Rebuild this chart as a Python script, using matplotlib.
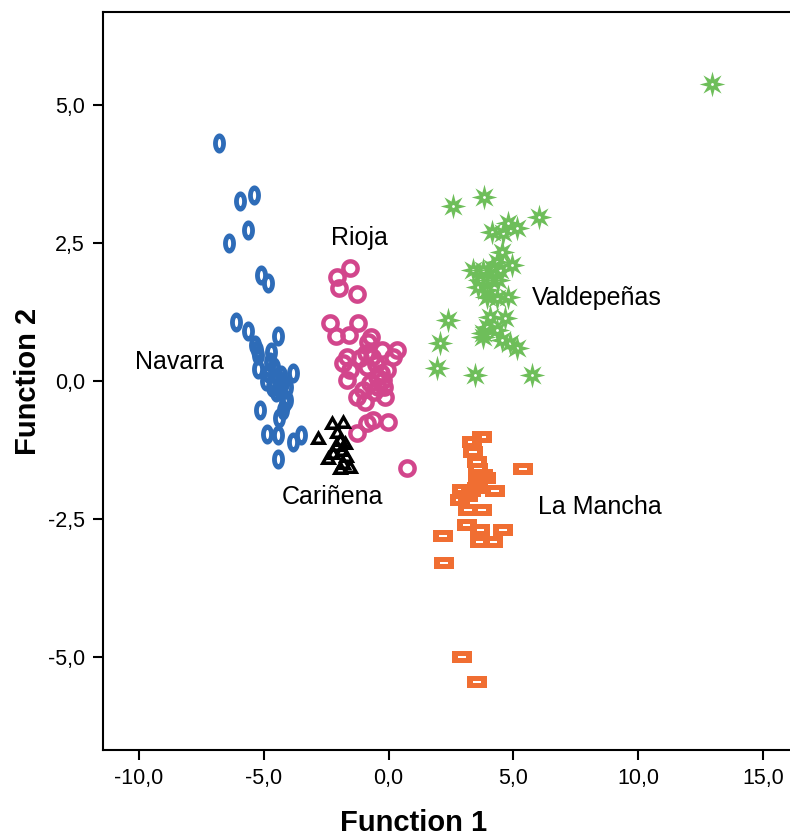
import numpy as np
import matplotlib
matplotlib.use("Agg")
import matplotlib.pyplot as plt
from matplotlib.path import Path

# discriminant scores (Function 1, Function 2)
navarra_x = [-6.79, -5.39, -5.95, -5.63, -6.39, -5.11, -4.83, -6.11, -5.63, -4.43, -5.35, -5.27,
             -5.23, -4.71, -5.23, -4.75, -4.83, -4.47, -4.23, -4.67, -4.35, -4.07, -3.83, -4.15,
             -4.07, -4.23, -5.15, -4.39, -4.87, -4.43, -3.83, -3.51, -4.43, -4.9, -4.6, -4.5, -4.3]
navarra_y = [4.31, 3.37, 3.26, 2.74, 2.50, 1.92, 1.78, 1.07, 0.91, 0.82, 0.65, 0.56,
             0.47, 0.53, 0.22, 0.34, 0.14, 0.07, -0.04, -0.11, -0.16, -0.11, 0.14, -0.40,
             -0.34, -0.53, -0.53, -0.67, -0.96, -0.98, -1.11, -0.98, -1.41, 0.0, 0.25, -0.2, 0.1]

rioja_x = [-1.55, -2.07, -1.99, -1.27, -2.35, -1.23, -2.11, -1.59, -0.71, -0.83, -0.26, 0.34,
           0.18, -1.67, -1.83, -1.15, -0.67, -1.55, -0.06, -0.87, -0.46, -0.75, -1.67, -0.22,
           -1.03, -0.42, -1.27, -0.95, -0.14, -0.62, -0.87, -0.02, -1.27, 0.74,
           -0.5, -0.3, -0.6, -0.2, -0.9]
rioja_y = [2.05, 1.88, 1.68, 1.58, 1.05, 1.05, 0.82, 0.83, 0.80, 0.71, 0.56, 0.56,
           0.43, 0.43, 0.33, 0.42, 0.43, 0.20, 0.20, 0.25, 0.07, -0.04, 0.02, 0.02,
           -0.16, -0.11, -0.29, -0.38, -0.29, -0.71, -0.76, -0.74, -0.94, -1.58,
           0.3, 0.15, -0.2, -0.1, 0.5]

carinena_x = [-2.83, -2.27, -1.83, -2.07, -1.95, -2.23, -1.87, -1.75, -2.43, -1.83, -1.55,
              -1.95, -2.11, -1.71]
carinena_y = [-1.03, -0.76, -0.74, -0.92, -1.07, -1.30, -1.25, -1.12, -1.39, -1.49, -1.56,
              -1.58, -1.16, -1.36]

valdepenas_x = [2.58, 3.82, 6.03, 4.78, 5.14, 4.14, 4.58, 4.54, 4.34, 4.94, 3.38, 3.78,
                4.14, 4.46, 3.66, 4.06, 4.38, 3.58, 3.94, 4.78, 3.94, 4.34, 2.38, 4.06,
                4.66, 3.94, 4.34, 3.78, 2.06, 3.78, 4.54, 4.86, 5.14, 1.94, 3.46, 5.75, 12.96]
valdepenas_y = [3.17, 3.33, 2.97, 2.86, 2.77, 2.70, 2.68, 2.34, 2.16, 2.10, 2.01, 2.01,
                2.05, 2.01, 1.83, 1.83, 1.83, 1.70, 1.65, 1.52, 1.52, 1.50, 1.11, 1.16,
                1.14, 0.98, 0.92, 0.87, 0.69, 0.80, 0.74, 0.69, 0.60, 0.24, 0.11, 0.11, 5.38]

mancha_x = [3.74, 3.34, 3.38, 3.54, 5.38, 3.78, 3.58, 2.94, 3.54, 4.26, 2.86, 3.18,
            3.18, 3.74, 3.14, 3.66, 4.58, 2.18, 3.66, 4.18, 2.22, 2.94, 3.54, 3.6, 3.9, 3.3]
mancha_y = [-1.01, -1.11, -1.29, -1.47, -1.59, -1.70, -1.79, -1.97, -1.94, -1.99, -2.16, -2.08,
            -2.34, -2.34, -2.61, -2.70, -2.70, -2.81, -2.92, -2.92, -3.30, -5.00, -5.45,
            -1.6, -1.75, -2.0]

group_names = ['Navarra', 'Rioja', 'Valdepeñas', 'Cariñena', 'La Mancha']
name_x = [-8.36, -1.15, 8.35, -2.23, 8.47]
name_y = [0.34, 2.59, 1.50, -2.10, -2.28]

xticks = [-10, -5, 0, 5, 10, 15]
xtick_labels = ['-10,0', '-5,0', '0,0', '5,0', '10,0', '15,0']
yticks = [-5, -2.5, 0, 2.5, 5]
ytick_labels = ['-5,0', '-2,5', '0,0', '2,5', '5,0']


# ring-shaped marker = outer shape with a reversed inner shape as hole
def ring(outer, inner):
    outer = np.asarray(outer, float)
    inner = np.asarray(inner, float)[::-1]
    verts = np.concatenate([outer, outer[:1], inner, inner[:1]])
    codes = ([Path.MOVETO] + [Path.LINETO] * (len(outer) - 1) + [Path.CLOSEPOLY]
             + [Path.MOVETO] + [Path.LINETO] * (len(inner) - 1) + [Path.CLOSEPOLY])
    return Path(verts, codes)


t = np.linspace(0, 2 * np.pi, 40, endpoint=False)
ellipse_marker = ring(np.c_[0.64 * np.cos(t), np.sin(t)], np.c_[0.16 * np.cos(t), 0.45 * np.sin(t)])
circle_marker = ring(np.c_[np.cos(t), np.sin(t)], np.c_[0.52 * np.cos(t), 0.52 * np.sin(t)])
tri = np.array([[0, 1], [-1, -0.75], [1, -0.75]])
tri_marker = ring(tri, tri * 0.32 + [0, -0.1])
rect = np.array([[-1, -0.6], [1, -0.6], [1, 0.6], [-1, 0.6]])
rect_marker = ring(rect, np.array([[-0.38, -0.13], [0.38, -0.13], [0.38, 0.13], [-0.38, 0.13]]))
a = np.linspace(np.pi / 2, np.pi / 2 + 2 * np.pi, 16, endpoint=False)
r = np.where(np.arange(16) % 2 == 0, 1.0, 0.42)
star_marker = ring(np.c_[r * np.cos(a), r * np.sin(a)], np.c_[0.11 * np.cos(t), 0.11 * np.sin(t)])

fig = plt.figure(figsize=(7.9, 8.36), dpi=100)
ax = fig.add_axes([103 / 790, 86 / 836, 687 / 790, 738 / 836])

ax.plot(navarra_x, navarra_y, ls='none', marker=ellipse_marker, ms=14.5, mew=0, color='#2e6cb8')
ax.plot(rioja_x, rioja_y, ls='none', marker=circle_marker, ms=13.5, mew=0, color='#d2468c')
ax.plot(carinena_x, carinena_y, ls='none', marker=tri_marker, ms=12.5, mew=0, color='black')
ax.plot(valdepenas_x, valdepenas_y, ls='none', marker=star_marker, ms=18.5, mew=0, color='#6ebe5a')
ax.plot(mancha_x, mancha_y, ls='none', marker=rect_marker, ms=14, mew=0, color='#f06e32')

for name, nx, ny in zip(group_names, name_x, name_y):
    ax.text(nx, ny, name, ha='center', va='center', fontsize=18, family='Liberation Sans')

ax.set_xlim(-11.44, 16.08)
ax.set_ylim(-6.68, 6.68)
ax.set_xticks(xticks)
ax.set_xticklabels(xtick_labels, fontsize=15.5, family='Liberation Sans')
ax.set_yticks(yticks)
ax.set_yticklabels(ytick_labels, fontsize=15.5, family='Liberation Sans')
ax.tick_params(direction='out', length=7, width=1.5, pad=6)
ax.spines['right'].set_visible(False)
for s in ['left', 'bottom', 'top']:
    ax.spines[s].set_linewidth(1.5)

fig.text(414 / 790, 13 / 836, 'Function 1', ha='center', va='center', fontsize=21,
         fontweight='bold', family='Liberation Sans')
fig.text(28 / 790, 455 / 836, 'Function 2', ha='center', va='center', rotation=90, fontsize=21,
         fontweight='bold', family='Liberation Sans')

fig.savefig('out.png', dpi=100)
